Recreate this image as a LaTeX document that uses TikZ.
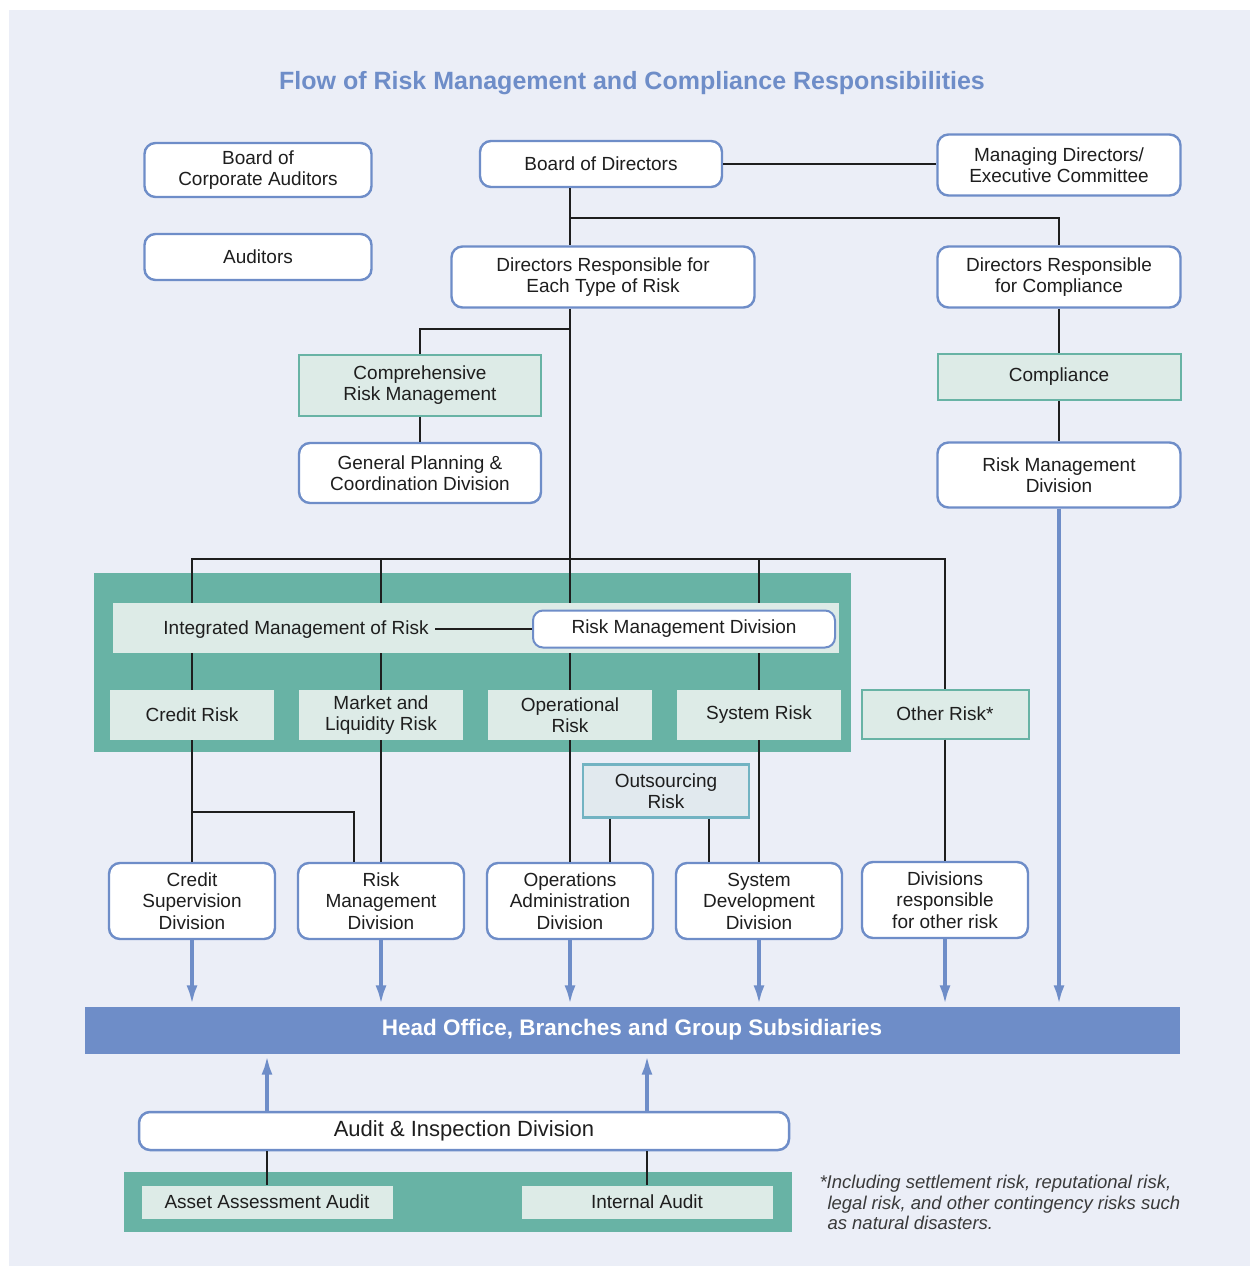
\documentclass[tikz,border=0pt]{standalone}
\usepackage{fontspec}
\setmainfont{Liberation Sans}
\usetikzlibrary{arrows.meta}
\definecolor{Ground}{HTML}{EBEEF7}
\definecolor{Frame}{HTML}{6E8DC8}
\definecolor{Teal}{HTML}{68B3A5}
\definecolor{Pale}{HTML}{DDEBE7}
\definecolor{Mist}{HTML}{E1E9EE}
\definecolor{Steel}{HTML}{72B3C2}
\definecolor{Ink}{HTML}{1E1E1E}
\definecolor{Note}{HTML}{3A3A3A}
\newcommand{\bodyfont}{\fontsize{19}{21.5}\selectfont}
\tikzset{rbox/.style={draw=Frame,fill=white,line width=2.4pt,rounded corners=11pt,align=center,
    inner sep=0pt,font=\bodyfont,text=Ink},
  gbox/.style={draw=Teal,fill=Pale,line width=2pt,align=center,inner sep=0pt,font=\bodyfont,text=Ink},
  riskbox/.style={fill=Pale,align=center,inner sep=0pt,font=\bodyfont,text=Ink,
    minimum width=164pt,minimum height=50pt},
  divbox/.style={rbox,minimum width=166pt,minimum height=76pt},
  link/.style={draw=Ink,line width=1.4pt},
  flow/.style={-{Latex[length=20pt,width=11pt]},line width=4pt,draw=Frame,shorten >=1pt}}

\begin{document}
\begin{tikzpicture}[x=1pt,y=-1pt]
    \useasboundingbox (0,0) rectangle (1252,1266);
    \fill[white] (0,0) rectangle (1252,1266);
    \fill[Ground] (9,10) rectangle (1250,1266);
    \fill[Teal] (94,573) rectangle (851,752);
    \fill[Teal] (124,1172) rectangle (792,1232);
    \node[font=\fontsize{25}{28}\selectfont\bfseries,text=Frame] (title) at (632,83) {Flow of Risk Management and Compliance Responsibilities};
    \node[rbox,minimum width=227pt,minimum height=54pt] (bca) at (258,170) {Board of\\Corporate Auditors};
    \node[rbox,minimum width=227pt,minimum height=46pt] (aud) at (258,257) {Auditors};
    \node[rbox,minimum width=242pt,minimum height=46pt] (bod) at (601,164) {Board of Directors};
    \node[rbox,minimum width=243pt,minimum height=61pt] (mdec) at (1059,165) {Managing Directors/\\Executive Committee};
    \node[rbox,minimum width=303pt,minimum height=61pt] (drtype) at (603,277) {Directors Responsible for\\Each Type of Risk};
    \node[rbox,minimum width=243pt,minimum height=61pt] (drcomp) at (1059,277) {Directors Responsible\\for Compliance};
    \node[gbox,minimum width=243pt,minimum height=46pt] (comp) at (1059,377) {Compliance};
    \node[rbox,minimum width=243pt,minimum height=65pt] (rmd) at (1059,475) {Risk Management\\Division};
    \node[gbox,minimum width=242pt,minimum height=61pt] (crm) at (420,385) {Comprehensive\\Risk Management};
    \node[rbox,minimum width=242pt,minimum height=60pt] (gpcd) at (420,473) {General Planning \&\\Coordination Division};
    \node[fill=Pale,minimum width=726pt,minimum height=50pt,inner sep=0pt] (band) at (476,628) {};
    \node[font=\bodyfont,text=Ink,inner sep=6pt] (imr) at (296,630) {Integrated Management of Risk};
    \node[rbox,line width=2pt,rounded corners=10pt,minimum width=302pt,minimum height=37pt] (rmdi) at (684,629) {Risk Management Division};
    \node[riskbox] (credit) at (192,715) {Credit Risk};
    \node[riskbox] (market) at (381,715) {Market and\\Liquidity Risk};
    \node[riskbox] (oper) at (570,715) {Operational\\Risk};
    \node[riskbox] (system) at (759,715) {System Risk};
    \node[gbox,minimum width=167pt,minimum height=49pt] (other) at (945,714) {Other Risk*};
    \node[gbox,draw=Steel,fill=Mist,line width=2.5pt,minimum width=166pt,minimum height=53pt] (outs) at (666,791) {Outsourcing\\Risk};
    \node[divbox] (csd) at (192,901) {Credit\\Supervision\\Division};
    \node[divbox] (rmd2) at (381,901) {Risk\\Management\\Division};
    \node[divbox] (oad) at (570,901) {Operations\\Administration\\Division};
    \node[divbox] (sdd) at (759,901) {System\\Development\\Division};
    \node[divbox] (dor) at (945,900) {Divisions\\responsible\\for other risk};
    \node[fill=Frame,minimum width=1095pt,minimum height=47pt,inner sep=0pt,text=white,
      font=\fontsize{22.5}{24}\selectfont\bfseries] (head) at (632,1030) {\raisebox{-3pt}{Head Office, Branches and Group Subsidiaries}};
    \node[rbox,line width=2.5pt,minimum width=650pt,minimum height=38pt,font=\fontsize{22}{24}\selectfont] (audit) at (464,1131) {\raisebox{-3pt}{Audit \& Inspection Division}};
    \node[riskbox,minimum width=251pt,minimum height=33pt] (asset) at (267,1202) {Asset Assessment Audit};
    \node[riskbox,minimum width=251pt,minimum height=33pt] (internal) at (647,1202) {Internal Audit};
    \node[anchor=north west,align=left,text=Note,font=\fontsize{18.5}{20.5}\selectfont\itshape] (note) at (816,1172)
      {*Including settlement risk, reputational risk,\\\hspace*{8pt}legal risk, and other contingency risks such\\\hspace*{8pt}as natural disasters.};
    \coordinate (s1) at (570,218);
    \coordinate (s2) at (570,329);
    \coordinate (s3) at (570,559);
    \coordinate (k) at (192,812);
    \coordinate (o1) at ([xshift=-56pt]outs.south);
    \coordinate (o2) at ([xshift=43pt]outs.south);
    \draw[link] (bod.east) -- (bod.east -| mdec.west);
    \draw[link] (s1 |- bod.south) -- (s1 |- drtype.north);
    \draw[link] (s1) -| (drcomp.north);
    \draw[link] (s1 |- drtype.south) -- (s1 |- band.north);
    \draw[link] (s2) -| (crm.north);
    \draw[link] (crm) -- (gpcd);
    \draw[link] (drcomp) -- (comp);
    \draw[link] (comp) -- (rmd);
    \draw[link] (credit |- band.north) |- (s3) -| (other.north);
    \foreach \r in {market,system} \draw[link] (\r |- s3) -- (\r |- band.north);
    \foreach \r in {credit,market,oper,system} \draw[link] (\r |- band.south) -- (\r.north);
    \draw[link] (rmdi.west) -- (rmdi.west -| imr.east);
    \draw[link] (credit.south) -- (csd.north);
    \draw[link] (k) -| ([xshift=-27pt]rmd2.north);
    \draw[link] (market.south) -- (rmd2.north);
    \draw[link] (oper.south) -- (oad.north);
    \draw[link] (system.south) -- (sdd.north);
    \draw[link] (other.south) -- (dor.north);
    \draw[link] (o1) -- (o1 |- oad.north);
    \draw[link] (o2) -- (o2 |- sdd.north);
    \foreach \d in {csd,rmd2,oad,sdd,dor,rmd} \draw[flow] (\d.south) -- (\d.south |- head.north);
    \foreach \a in {asset,internal} {
      \draw[flow] (\a |- audit.north) -- (\a |- head.south);
      \draw[link] (\a |- audit.south) -- (\a.north);
    }
  \end{tikzpicture}
\end{document}
